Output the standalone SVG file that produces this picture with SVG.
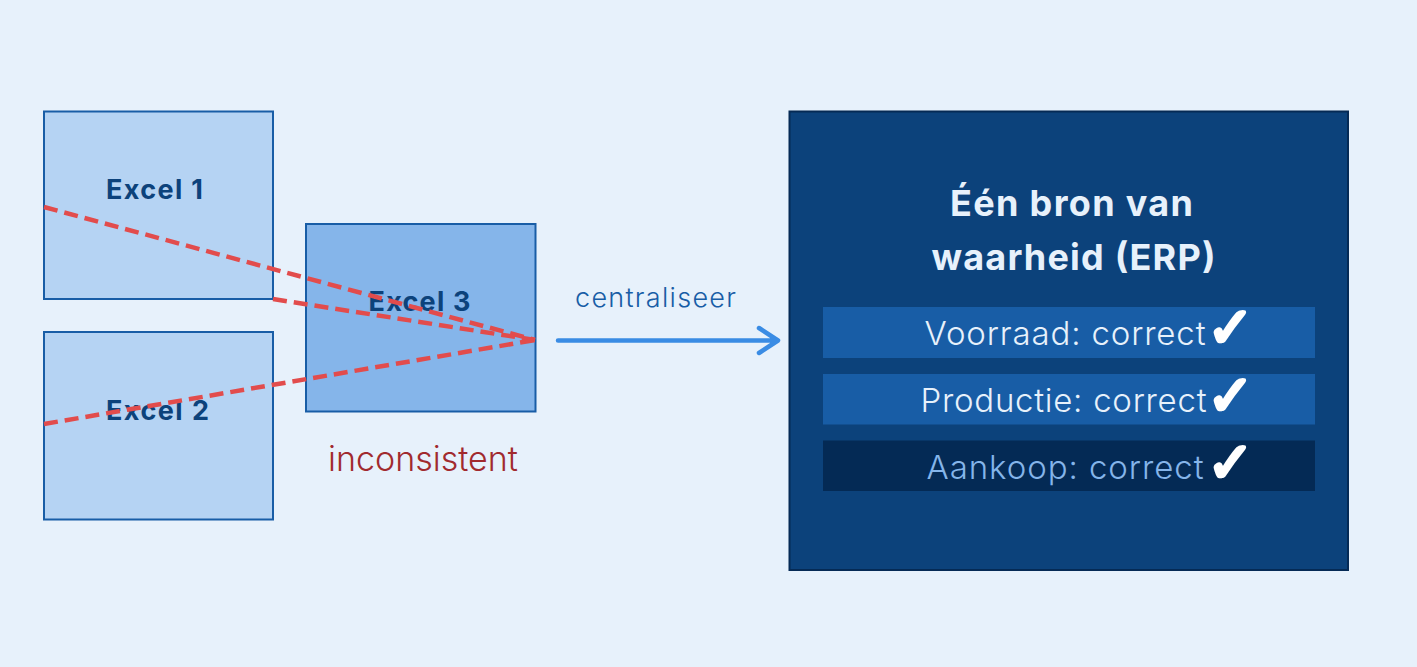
<svg xmlns="http://www.w3.org/2000/svg" width="1417" height="667" viewBox="0 0 1417 667">
<style>
text{font-family:Inter,"Liberation Sans",sans-serif}
.box{fill:#b5d3f3;stroke:#185da6;stroke-width:2}
.lbl{font-size:27px;font-weight:700;fill:#0c427b}
.row{font-size:33px;font-weight:300}
.chk{font-family:"DejaVu Sans",sans-serif;font-size:56px;font-weight:700;fill:#fff;stroke:#fff;stroke-width:3.500;stroke-linejoin:round}
.bad{fill:none;stroke:#e24c4c;stroke-width:4.500;stroke-dasharray:14 7}
</style>
<rect width="1417" height="667" fill="#e7f1fb"/>
<g id="excel-1"><rect class="box" x="44" y="111.500" width="229" height="187.500"/><text class="lbl" x="106" y="199" textLength="97">Excel 1</text></g>
<g id="excel-2"><rect class="box" x="44" y="332" width="229" height="187.500"/><text class="lbl" x="106" y="420" textLength="103">Excel 2</text></g>
<g id="excel-3"><rect class="box" style="fill:#85b5ea" x="306" y="224" width="229.500" height="187.500"/><text class="lbl" x="368.500" y="311" textLength="102">Excel 3</text></g>
<text id="inconsistent" x="328" y="471" font-size="34" font-weight="300" fill="#a12a2e" textLength="190">inconsistent</text>
<g id="erp">
<rect x="789.500" y="111.500" width="558.500" height="458.500" fill="#0c427b" stroke="#052a55" stroke-width="2"/>
<text x="1071.500" y="216" text-anchor="middle" font-size="36" font-weight="700" fill="#e7f1fb" textLength="243">Één bron van</text>
<text x="1073.500" y="270" text-anchor="middle" font-size="36" font-weight="700" fill="#e7f1fb" textLength="284">waarheid (ERP)</text>
</g>
<g id="voorraad"><rect x="823" y="307" width="492" height="51" fill="#185da6"/><text class="row" x="924.500" y="345" fill="#e7f1fb" textLength="281">Voorraad: correct</text><text class="chk" x="1207" y="347">✓</text></g>
<g id="productie"><rect x="823" y="374" width="492" height="50.500" fill="#185da6"/><text class="row" x="920.500" y="411.500" fill="#e7f1fb" textLength="286">Productie: correct</text><text class="chk" x="1207" y="415">✓</text></g>
<g id="aankoop"><rect x="823" y="440.500" width="492" height="50.500" fill="#042a55"/><text class="row" x="926.500" y="478.500" fill="#85b5ea" textLength="277">Aankoop: correct</text><text class="chk" x="1207" y="482">✓</text></g>
<g id="connectors">
<line class="bad" x1="44" y1="207" x2="535" y2="340"/>
<line class="bad" x1="273" y1="299" x2="535" y2="340"/>
<line class="bad" x1="44" y1="424" x2="535" y2="340"/>
<path d="M558 340.500H778M759 328L778 340.500L759 353" fill="none" stroke="#3a8ce4" stroke-width="4.500" stroke-linecap="round" stroke-linejoin="round"/>
<text x="575" y="307" font-size="27" font-weight="300" fill="#185da6" textLength="161">centraliseer</text>
</g>
</svg>
